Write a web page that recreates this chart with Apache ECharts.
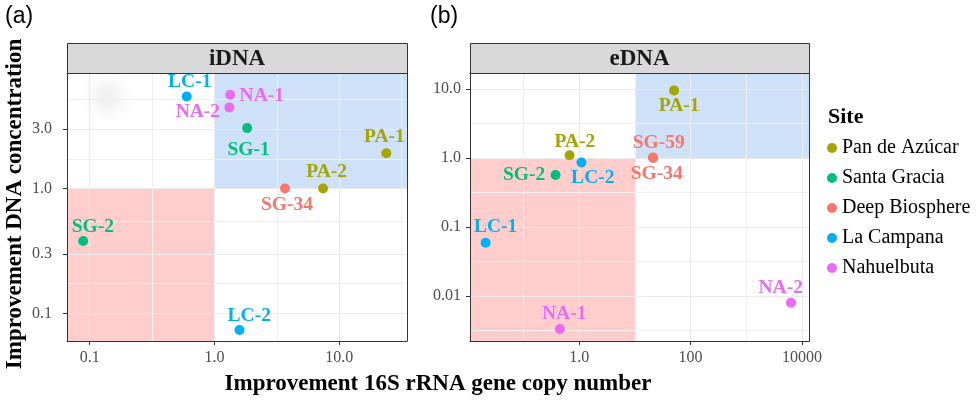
<!DOCTYPE html>
<html><head><meta charset="utf-8">
<script src="https://cdn.jsdelivr.net/npm/echarts@6/dist/echarts.min.js"></script>
<style>html,body{margin:0;padding:0;background:#fff}#c{width:977px;height:401px}</style>
</head><body><div id="c"></div>
<script>
// ---------- data ----------
const sites = ['Pan de Azúcar','Santa Gracia','Deep Biosphere','La Campana','Nahuelbuta'];
const siteColors = ['#A3A500','#00BF7D','#F8766D','#00B0F6','#E76BF3'];

// panel (a) iDNA
const iLabels = ['LC-1','NA-1','NA-2','SG-1','PA-1','PA-2','SG-34','SG-2','LC-2'];
const iSites  = ['La Campana','Nahuelbuta','Nahuelbuta','Santa Gracia','Pan de Azúcar','Pan de Azúcar','Deep Biosphere','Santa Gracia','La Campana'];
const iCopy   = [0.60, 1.34, 1.32, 1.83, 23.9, 7.43, 3.68, 0.0887, 1.59];
const iConc   = [5.47, 5.65, 4.47, 3.05, 1.92, 1.0, 1.0, 0.380, 0.0735];

// panel (b) eDNA
const eLabels = ['PA-1','PA-2','LC-2','SG-2','SG-59','SG-34','LC-1','NA-1','NA-2'];
const eSites  = ['Pan de Azúcar','Pan de Azúcar','La Campana','Santa Gracia','Deep Biosphere','Deep Biosphere','La Campana','Nahuelbuta','Nahuelbuta'];
const eCopy   = [50.6, 0.673, 1.10, 0.377, 21.2, 21.2, 0.0209, 0.451, 6350];
const eConc   = [9.55, 1.10, 0.863, 0.567, 1.02, 1.0, 0.0594, 0.00333, 0.0080];

// axis limits, breaks and tick labels
const aXLim = [0.0658, 35.0];
const aYLim = [0.0600, 8.43];
const bXLim = [0.01096, 13366];
const bYLim = [0.002234, 17.06];
const aXTicks = [0.1, 1, 10];          const aXTickLabels = ['0.1','1.0','10.0'];
const aYTicks = [0.1, 0.3, 1, 3];      const aYTickLabels = ['0.1','0.3','1.0','3.0'];
const bXTicks = [1, 100, 10000];       const bXTickLabels = ['1.0','100','10000'];
const bYTicks = [0.01, 0.1, 1, 10];    const bYTickLabels = ['0.01','0.1','1.0','10.0'];
const aXMinor = [0.3162, 3.162, 31.62];
const aYMinor = [0.1733, 0.5477, 1.732, 5.196];
const bXMinor = [0.1, 10, 1000];
const bYMinor = [0.003162, 0.03162, 0.3162, 3.162];
// shading thresholds (x, y)
const aThresh = [1, 1];
const bThresh = [10, 1];

// ---------- styles ----------
const labelOffsetA = {'LC-1':[3,-14],'NA-1':[31.5,1.7],'NA-2':[-31.6,4.3],'SG-1':[1.5,21.7],'PA-1':[-2,-16.6],
  'PA-2':[3.6,-16.5],'SG-34':[2,16.8],'SG-2':[9.7,-14],'LC-2':[9.7,-14]};
const labelOffsetB = {'PA-1':[5,16],'PA-2':[5.3,-13.6],'LC-2':[11.3,15.1],'SG-2':[-31.5,0.2],'SG-59':[5.7,-14.7],
  'SG-34':[3.7,16],'LC-1':[10,-15.8],'NA-1':[4.3,-15],'NA-2':[-10.3,-14.6]};
const SERIF = '"Liberation Serif", "Times New Roman", serif';
const L = Math.log10;

function fmt(vals, lbls){
  return function(v){
    for (let i=0;i<vals.length;i++) if (Math.abs(L(vals[i]) - v) < 1e-6) return lbls[i];
    return '';
  };
}
function mainAxis(gi, pos, lim, ticks, lbls, labelExtra){
  return {
    gridIndex: gi, type:'value', position: pos, min: L(lim[0]), max: L(lim[1]), z: 3,
    axisLine:{show:true, onZero:false, lineStyle:{color:'#333', width:1}},
    axisTick:{show:true, length:4, customValues: ticks.map(L), lineStyle:{color:'#333', width:1}},
    axisLabel:Object.assign({show:true, customValues: ticks.map(L), formatter: fmt(ticks, lbls),
      fontFamily: SERIF, fontSize:16, color:'#4d4d4d'}, labelExtra),
    splitLine:{show:true, lineStyle:{color:'#ebebeb', width:1.2}}
  };
}
function minorAxis(gi, pos, lim, minor){
  return {
    gridIndex: gi, type:'value', position: pos, min: L(lim[0]), max: L(lim[1]), z: 3,
    axisLine:{show:true, onZero:false, lineStyle:{color:'#333', width:1}},
    axisTick:{show:false, customValues: minor.map(L)},
    axisLabel:{show:false},
    splitLine:{show:true, lineStyle:{color:'#f0f0f0', width:1}}
  };
}
function pointSeries(gi, labels, siteArr, xs, ys, offsets){
  return sites.map((s, si) => ({
    type:'scatter', name:s, xAxisIndex: gi*2, yAxisIndex: gi*2, z:5, symbolSize:10,
    itemStyle:{color: siteColors[si], opacity:1},
    label:{show:true, position:'inside', formatter: p => p.name, color: siteColors[si],
      fontFamily: SERIF, fontWeight:'bold', fontSize:19.5, textBorderWidth:0},
    emphasis:{disabled:true},
    data: labels.map((l,i)=>i).filter(i => siteArr[i] === s).map(i => ({
      name: labels[i], value:[L(xs[i]), L(ys[i])], label:{offset: offsets[labels[i]]}
    }))
  }));
}
function shadeSeries(gi, xLim, yLim, th){
  return {
    type:'scatter', xAxisIndex: gi*2, yAxisIndex: gi*2, data: [], silent:true,
    markArea:{silent:true, z:1, label:{show:false},
      data:[
        [{xAxis: L(th[0]), yAxis: L(th[1]), itemStyle:{color:'#cfe1f8'}}, {xAxis: L(xLim[1]), yAxis: L(yLim[1])}],
        [{xAxis: L(xLim[0]), yAxis: L(yLim[0]), itemStyle:{color:'#ffcdcc'}}, {xAxis: L(th[0]), yAxis: L(th[1])}]
      ]}
  };
}

const chart = echarts.init(document.getElementById('c'), null, {renderer:'canvas'});
const strip = (x, w, t) => [
  {type:'rect', z:10, shape:{x:x+0.5, y:43.5, width:w, height:30}, style:{fill:'#d9d9d9', stroke:'#333', lineWidth:1}},
  {type:'text', z:11, x: x + w/2, y: 59, style:{text:t, font:'bold 23px "Liberation Serif"', fill:'#1a1a1a',
    textAlign:'center', textVerticalAlign:'middle', align:'center', verticalAlign:'middle'}}
];
chart.setOption({
  animation:false,
  backgroundColor:'#fff',
  textStyle:{fontFamily: SERIF},
  grid:[
    {left:67, top:73, width:340, height:268},
    {left:470, top:73, width:339, height:268}
  ],
  xAxis:[
    mainAxis(0,'bottom', aXLim, aXTicks, aXTickLabels, {margin:9}),
    minorAxis(0,'top', aXLim, aXMinor),
    mainAxis(1,'bottom', bXLim, bXTicks, bXTickLabels, {margin:9}),
    minorAxis(1,'top', bXLim, bXMinor)
  ],
  yAxis:[
    mainAxis(0,'left', aYLim, aYTicks, aYTickLabels, {margin:35, align:'left'}),
    minorAxis(0,'right', aYLim, aYMinor),
    mainAxis(1,'left', bYLim, bYTicks, bYTickLabels, {margin:9}),
    minorAxis(1,'right', bYLim, bYMinor)
  ],
  legend:{data: sites, orient:'vertical', left:827, top:138, padding:0, itemWidth:10, itemHeight:10, itemGap:10,
    icon:'circle', selectedMode:false,
    textStyle:{fontFamily: SERIF, fontSize:20, color:'#000', lineHeight:20}},
  series: [shadeSeries(0, aXLim, aYLim, aThresh), shadeSeries(1, bXLim, bYLim, bThresh)]
    .concat(pointSeries(0, iLabels, iSites, iCopy, iConc, labelOffsetA))
    .concat(pointSeries(1, eLabels, eSites, eCopy, eConc, labelOffsetB)),
  graphic:[
    ...strip(67, 340, 'iDNA'),
    ...strip(470, 339, 'eDNA'),
    {type:'rect', z:2, shape:{x:94 - 2000, y:86, width:26, height:22},
      style:{fill:'#000', shadowBlur:18, shadowColor:'rgba(0,0,0,0.09)', shadowOffsetX:2000, shadowOffsetY:0}},
    {type:'text', x:5, y:17, style:{text:'(a)', font:'23px "Liberation Sans"', fill:'#000', textVerticalAlign:'middle', verticalAlign:'middle'}},
    {type:'text', x:430, y:17, style:{text:'(b)', font:'23px "Liberation Sans"', fill:'#000', textVerticalAlign:'middle', verticalAlign:'middle'}},
    {type:'text', x:828, y:117, style:{text:'Site', font:'bold 22px "Liberation Serif"', fill:'#000', textVerticalAlign:'middle', verticalAlign:'middle'}},
    {type:'text', x:438, y:384, style:{text:'Improvement 16S rRNA gene copy number', font:'bold 23px "Liberation Serif"', fill:'#000',
      textAlign:'center', textVerticalAlign:'middle', align:'center', verticalAlign:'middle'}},
    {type:'text', x:15, y:204, rotation: Math.PI/2, style:{text:'Improvement DNA concentration', font:'bold 23px "Liberation Serif"', fill:'#000',
      textAlign:'center', textVerticalAlign:'middle', align:'center', verticalAlign:'middle'}}
  ]
});
</script></body></html>
